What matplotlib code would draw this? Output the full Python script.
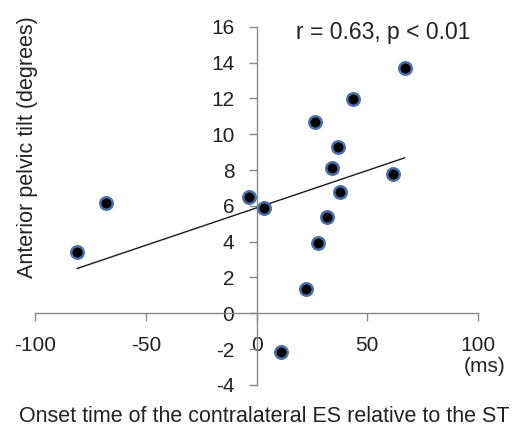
import numpy as np
import matplotlib
matplotlib.use('Agg')
import matplotlib.pyplot as plt

# onset time (ms) vs anterior pelvic tilt (degrees)
onset_ms = [-81, -68, -3.5, 3.5, 11, 22.3, 26.3, 27.9, 31.8, 34, 36.9, 37.7, 43.4, 61.5, 66.9]
tilt_deg = [3.4, 6.15, 6.5, 5.9, -2.18, 1.34, 10.7, 3.9, 5.4, 8.14, 9.29, 6.76, 11.96, 7.8, 13.69]

xticks = [-100, -50, 0, 50, 100]
yticks = [-4, -2, 0, 2, 4, 6, 8, 10, 12, 14, 16]

plt.rcParams['font.family'] = ['Liberation Sans', 'DejaVu Sans']
plt.rcParams['axes.unicode_minus'] = False
txt_color = '#222222'
axis_color = '#8a8a8a'

fig = plt.figure(figsize=(5.18, 4.42), dpi=100)
ax = fig.add_axes([0.0676, 0.129, 0.8552, 0.8106])

x = np.array(onset_ms)
y = np.array(tilt_deg)

# linear trendline
k, b = np.polyfit(x, y, 1)
xl = np.array([x.min(), x.max()])
ax.plot(xl, k * xl + b, color='#1a1a1a', lw=1.0, zorder=2)

ax.scatter(x, y, s=80, c='black', edgecolors='#4a6ea8', linewidths=1.8, zorder=3)

ax.set_xlim(-100, 100)
ax.set_ylim(-4, 16)
ax.spines['left'].set_position(('data', 0))
ax.spines['bottom'].set_position(('data', 0))
for s in ['top', 'right']:
    ax.spines[s].set_visible(False)
for s in ['left', 'bottom']:
    ax.spines[s].set_color(axis_color)
    ax.spines[s].set_linewidth(1.0)

ax.set_xticks(xticks)
ax.set_yticks(yticks)
ax.tick_params(axis='both', colors=axis_color, labelcolor=txt_color, labelsize=15,
               direction='out', length=6, width=1.0)
ax.tick_params(axis='y', pad=10)
ax.tick_params(axis='x', pad=10)

ax.text(57, 15.7, 'r = 0.63, p < 0.01', fontsize=16.5, color=txt_color,
        ha='center', va='center')

fig.text(485 / 518, 1 - 367 / 442, '(ms)', fontsize=15, color=txt_color,
         ha='center', va='center')
fig.text(264 / 518, 1 - 417 / 442,
         'Onset time of the contralateral ES relative to the ST',
         fontsize=15.5, color=txt_color, ha='center', va='center')
fig.text(28 / 518, 1 - 147 / 442, 'Anterior pelvic tilt (degrees)',
         fontsize=15.5, color=txt_color, ha='center', va='center', rotation=90)

fig.savefig('out.png', dpi=100)
